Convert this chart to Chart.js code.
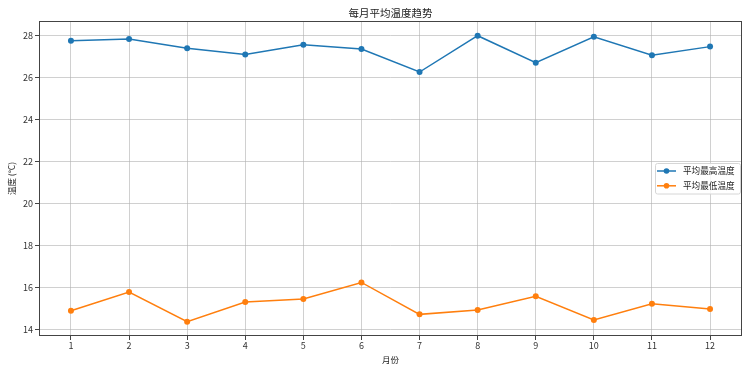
<!DOCTYPE html>
<html>
<head>
<meta charset="utf-8">
<script src="https://cdn.jsdelivr.net/npm/chart.js@4/dist/chart.umd.min.js"></script>
<style>
html,body{margin:0;padding:0;background:#fff;}
#wrap{width:750px;height:373px;}
</style>
</head>
<body>
<div id="wrap"><canvas id="c" width="750" height="373"></canvas></div>
<script>
const months = [1,2,3,4,5,6,7,8,9,10,11,12];
const highTemps = [27.76,27.84,27.40,27.11,27.57,27.37,26.27,28.00,26.71,27.95,27.07,27.48];
const lowTemps  = [14.90,15.79,14.38,15.32,15.46,16.25,14.73,14.94,15.59,14.46,15.24,14.99];
const yTicks = [14,16,18,20,22,24,26,28];
const seriesNames = ['平均最高温度','平均最低温度'];
const titleText = '每月平均温度趋势';
const xTitle = '月份';
const yTitle = '温度 (°C)';

const FONT = "'Noto Sans CJK SC', 'DejaVu Sans', sans-serif";
const BLUE = '#1f77b4', ORANGE = '#ff7f0e';

const frameAndLegend = {
  id: 'frameAndLegend',
  afterDraw(chart) {
    const ctx = chart.ctx, a = chart.chartArea;
    ctx.save();
    ctx.strokeStyle = '#444';
    ctx.lineWidth = 1;
    ctx.strokeRect(Math.round(a.left)+0.5, Math.round(a.top)+0.5, Math.round(a.right-a.left)-1, Math.round(a.bottom-a.top)-1);
    // titles
    const cx = (a.left + a.right) / 2, cy = (a.top + a.bottom) / 2;
    ctx.fillStyle = '#222';
    ctx.textAlign = 'center';
    ctx.textBaseline = 'middle';
    ctx.font = '10.5px ' + FONT;
    ctx.fillText(titleText, cx, 13.5);
    ctx.font = '8.5px ' + FONT;
    ctx.fillText(xTitle, cx, 360);
    ctx.save();
    ctx.translate(12, cy);
    ctx.rotate(-Math.PI/2);
    ctx.fillText(yTitle, 0, 0);
    ctx.restore();
    // legend
    const lx = 655, ly = 163.5, lw = 85, lh = 30.5;
    ctx.fillStyle = 'rgba(255,255,255,0.85)';
    ctx.strokeStyle = '#d6d6d6';
    ctx.beginPath();
    ctx.roundRect(lx+0.5, ly, lw, lh, 2);
    ctx.fill(); ctx.stroke();
    const cols = [BLUE, ORANGE];
    ctx.font = '8.6px ' + FONT;
    ctx.textAlign = 'left';
    for (let i = 0; i < 2; i++) {
      const yy = ly + 7.5 + i*14.8;
      ctx.strokeStyle = cols[i]; ctx.lineWidth = 1.5;
      ctx.beginPath(); ctx.moveTo(lx+2, yy); ctx.lineTo(lx+21, yy); ctx.stroke();
      ctx.fillStyle = cols[i];
      ctx.beginPath(); ctx.arc(lx+11.5, yy, 2.8, 0, Math.PI*2); ctx.fill();
      ctx.fillStyle = '#222';
      ctx.fillText(seriesNames[i], lx+28, yy);
    }
    ctx.restore();
  }
};

new Chart(document.getElementById('c'), {
  type: 'line',
  data: {
    datasets: [
      { label: seriesNames[0], data: months.map((m,i)=>({x:m,y:highTemps[i]})), borderColor: BLUE, backgroundColor: BLUE, borderWidth: 1.5, pointRadius: 3, pointBorderWidth: 0, tension: 0 },
      { label: seriesNames[1], data: months.map((m,i)=>({x:m,y:lowTemps[i]})), borderColor: ORANGE, backgroundColor: ORANGE, borderWidth: 1.5, pointRadius: 3, pointBorderWidth: 0, tension: 0 }
    ]
  },
  options: {
    responsive: false,
    animation: false,
    devicePixelRatio: 1,
    layout: { padding: { left: 0, right: 8, top: 21, bottom: 0 } },
    plugins: {
      legend: { display: false },
      tooltip: { enabled: false },
      title: { display: false }
    },
    scales: {
      x: {
        type: 'linear', min: 0.45, max: 12.55,
        afterBuildTicks: s => { s.ticks = months.map(v => ({ value: v })); },
        afterFit: s => { s.height = 37; },
        ticks: { color: '#333', font: { family: FONT, size: 9 }, padding: 0, autoSkip: false, maxRotation: 0, callback: v => String(v) },
        grid: { color: 'rgba(176,176,176,0.6)', lineWidth: 1, tickLength: 4, tickColor: '#444', drawOnChartArea: true },
        border: { display: false }
      },
      y: {
        type: 'linear', min: 13.70, max: 28.70,
        afterBuildTicks: s => { s.ticks = yTicks.map(v => ({ value: v })); },
        afterFit: s => { s.width = 39; },
        ticks: { color: '#333', font: { family: FONT, size: 9 }, padding: 2, callback: v => String(v) },
        grid: { color: 'rgba(176,176,176,0.6)', lineWidth: 1, tickLength: 4, tickColor: '#444' },
        border: { display: false }
      }
    }
  },
  plugins: [frameAndLegend]
});
</script>
</body>
</html>
